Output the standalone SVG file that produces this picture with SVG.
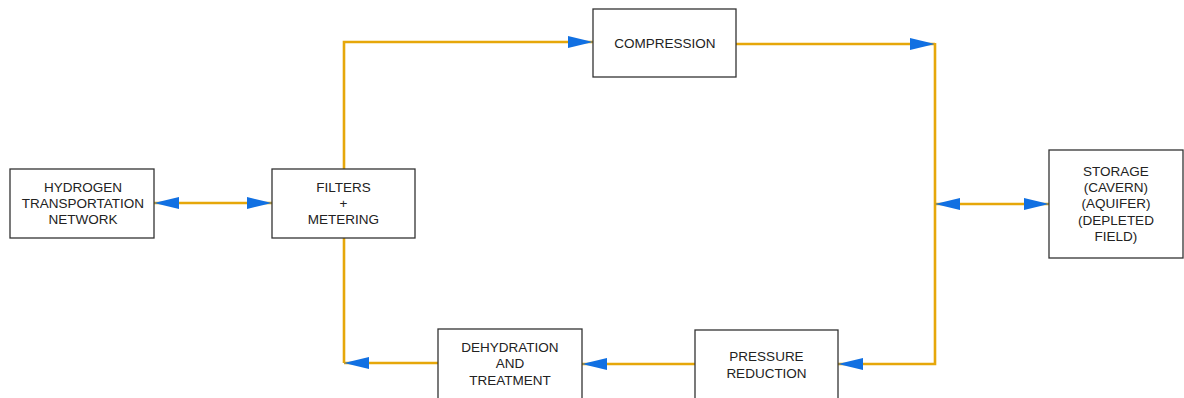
<svg xmlns="http://www.w3.org/2000/svg" width="1184" height="398" viewBox="0 0 1184 398">
<style>
.box{fill:#fff;stroke:#333;stroke-width:1.3}
.lbl{font-family:"Liberation Sans",Arial,sans-serif;font-size:13.5px;fill:#222;text-anchor:middle;dominant-baseline:central}
.con{fill:none;stroke:#E6A70A;stroke-width:2.6}
</style>
<defs>
<marker id="ah" viewBox="0 0 25 12" refX="25" refY="6" markerWidth="25" markerHeight="12" markerUnits="userSpaceOnUse" orient="auto-start-reverse">
<path d="M0,0 L25,6 L0,12 z" fill="#1170E2"/>
</marker>
</defs>
<rect width="1184" height="398" fill="#fff"/>
<g id="connectors">
<path class="con" d="M154,203 H272" marker-start="url(#ah)" marker-end="url(#ah)"/>
<path class="con" d="M344,169 V42 H593" marker-end="url(#ah)"/>
<path class="con" d="M736,44 H935" marker-end="url(#ah)"/>
<path class="con" d="M935,43 V364 H838" marker-end="url(#ah)"/>
<path class="con" d="M935,204 H1049" marker-start="url(#ah)" marker-end="url(#ah)"/>
<path class="con" d="M695,364 H582" marker-end="url(#ah)"/>
<path class="con" d="M344,238 V363"/>
<path class="con" d="M438,363 H344" marker-end="url(#ah)"/>
</g>
<g id="hydrogen">
<rect class="box" x="10" y="169" width="144" height="69"/>
<text class="lbl" x="83" y="187">HYDROGEN</text>
<text class="lbl" x="83" y="203">TRANSPORTATION</text>
<text class="lbl" x="83" y="219">NETWORK</text>
</g>
<g id="filters">
<rect class="box" x="272" y="169" width="143" height="69"/>
<text class="lbl" x="343.5" y="187">FILTERS</text>
<text class="lbl" x="343.5" y="203">+</text>
<text class="lbl" x="343.5" y="219">METERING</text>
</g>
<g id="compression">
<rect class="box" x="593" y="9" width="143" height="68"/>
<text class="lbl" x="665" y="43">COMPRESSION</text>
</g>
<g id="storage">
<rect class="box" x="1049" y="150" width="134" height="108"/>
<text class="lbl" x="1116" y="171">STORAGE</text>
<text class="lbl" x="1116" y="187.5">(CAVERN)</text>
<text class="lbl" x="1116" y="203.5">(AQUIFER)</text>
<text class="lbl" x="1116" y="220">(DEPLETED</text>
<text class="lbl" x="1116" y="236">FIELD)</text>
</g>
<g id="pressure">
<rect class="box" x="695" y="330" width="143" height="70"/>
<text class="lbl" x="766.5" y="356">PRESSURE</text>
<text class="lbl" x="766.5" y="373">REDUCTION</text>
</g>
<g id="dehydration">
<rect class="box" x="438" y="329" width="144" height="71"/>
<text class="lbl" x="510" y="347.5">DEHYDRATION</text>
<text class="lbl" x="510" y="363.5">AND</text>
<text class="lbl" x="510" y="380">TREATMENT</text>
</g>
</svg>
